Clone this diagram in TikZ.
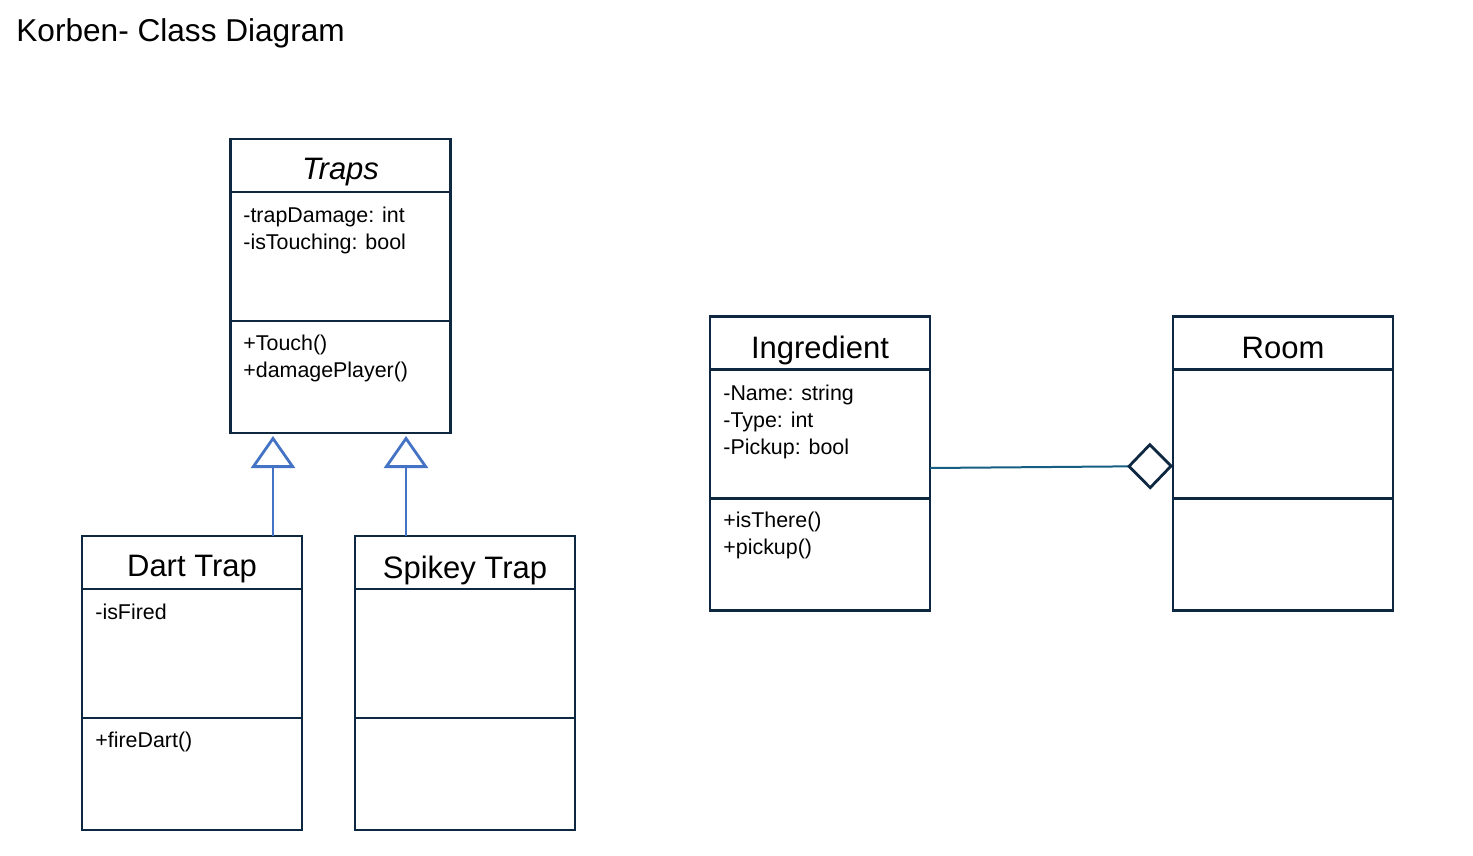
\documentclass[tikz,border=0pt]{standalone}
\usepackage{fontspec}
\setmainfont{Liberation Sans}
\usetikzlibrary{arrows.meta}

\definecolor{boxline}{HTML}{0E2841}
\definecolor{inhblue}{HTML}{4472C4}
\definecolor{aggline}{HTML}{156082}

\tikzset{
  classbox/.style={draw=boxline, line width=1.4pt, minimum width=110pt, minimum height=147pt, inner sep=0pt, outer sep=0pt},
  divider/.style={draw=boxline, line width=1.4pt},
  classname/.style={font=\fontsize{15.5}{18}\selectfont, inner sep=0pt, anchor=base},
  members/.style={font=\fontsize{10.7}{13.5}\selectfont, align=left, anchor=north west, inner sep=0pt},
  inherit/.style={draw=inhblue, line width=1pt, -{Triangle[open, length=16pt, width=22pt, line width=1.4pt]}},
  aggregate/.style={draw=aggline, line width=1pt, -{Diamond[open, length=23pt, width=23.5pt, line width=1.4pt, color=boxline]}},
}

\begin{document}
\begin{tikzpicture}[x=0.5pt, y=-0.5pt]
    \useasboundingbox (0,0) rectangle (1473,856);

    \node[font=\fontsize{15.8}{18}\selectfont, anchor=base west, inner sep=0pt] (title) at (16,42) {Korben- Class Diagram};

    % class boxes
    \node[classbox] (traps) at (340.5,286) {};
    \node[classbox] (dart) at (192,683) {};
    \node[classbox] (spikey) at (465,683) {};
    \node[classbox] (ingr) at (820,463.5) {};
    \node[classbox] (room) at (1283,463.5) {};

    \foreach \c in {traps,dart,spikey,ingr,room}{
        \draw[divider] ([yshift=-26.5pt]\c.north west) -- ([yshift=-26.5pt]\c.north east);
        \draw[divider] ([yshift=-91pt]\c.north west) -- ([yshift=-91pt]\c.north east);
    }

    % names
    \node[classname] (trapsname) at (340.5,179) {\itshape Traps};
    \node[classname] (dartname) at (192,576) {Dart Trap};
    \node[classname] (spikeyname) at (465,578) {Spikey Trap};
    \node[classname] (ingrname) at (820,358) {Ingredient};
    \node[classname] (roomname) at (1283,358) {Room};

    % members
    \node[members] (trapsattr) at (243,207) {-trapDamage: int\\-isTouching: bool};
    \node[members] (trapsops) at (243,335) {+Touch()\\+damagePlayer()};
    \node[members] (dartattr) at (95,604) {-isFired};
    \node[members] (dartops) at (95,732) {+fireDart()};
    \node[members] (ingrattr) at (723,385) {-Name: string\\-Type: int\\-Pickup: bool};
    \node[members] (ingrops) at (723,512) {+isThere()\\+pickup()};

    % relations
    \coordinate (inhL) at (273,436);
    \coordinate (inhR) at (406,436);
    \draw[inherit] (dart.north -| inhL) -- (inhL);
    \draw[inherit] (spikey.north -| inhR) -- (inhR);
    \draw[aggregate] (ingr.east |- 0,468) -- (room.west |- 0,466);
\end{tikzpicture}
\end{document}
